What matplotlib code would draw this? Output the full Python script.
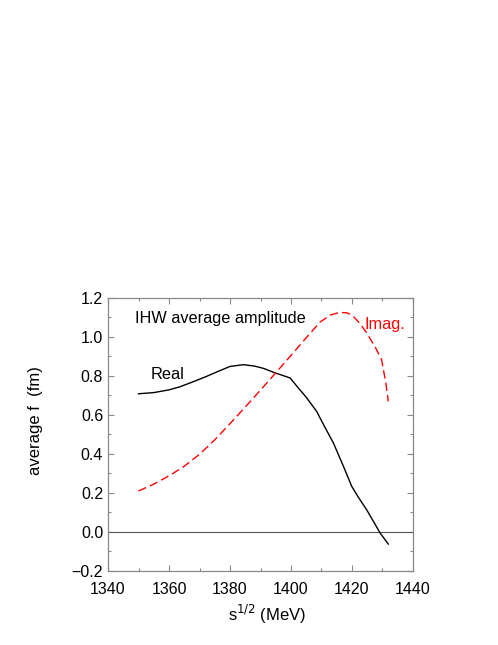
import matplotlib
matplotlib.use("Agg")
import matplotlib.pyplot as plt
from matplotlib.ticker import MultipleLocator

plt.rcParams['font.family'] = ['Liberation Sans', 'DejaVu Sans']

# real part of the averaged amplitude
real_x = [1350, 1355, 1360, 1363.6, 1368, 1372, 1376, 1380, 1384.4, 1388, 1391,
          1394.8, 1399.7, 1402.4, 1405, 1408.4, 1411, 1413.9, 1417.2, 1419.9,
          1422, 1424.8, 1427, 1429.2, 1431.9]
real_y = [0.708, 0.714, 0.728, 0.744, 0.77, 0.795, 0.822, 0.848, 0.857, 0.85, 0.838,
          0.815, 0.789, 0.738, 0.69, 0.618, 0.54, 0.456, 0.336, 0.234,
          0.18, 0.114, 0.055, -0.005, -0.062]

# imaginary part
imag_x = [1350, 1355, 1360.3, 1365, 1370, 1375, 1380, 1385, 1390, 1395, 1400,
          1405, 1409.5, 1413, 1416, 1418.5, 1420.4, 1422.5, 1424.8, 1427.5,
          1429.7, 1431.1, 1431.9]
imag_y = [0.21, 0.245, 0.29, 0.337, 0.398, 0.472, 0.555, 0.64, 0.727, 0.815, 0.905,
          0.995, 1.075, 1.112, 1.125, 1.122, 1.105, 1.07, 1.02, 0.95,
          0.883, 0.763, 0.669]

fig = plt.figure(figsize=(4.98, 6.45), dpi=100)
ax = fig.add_axes([0.2169, 0.1147, 0.6124, 0.4237])

ax.axhline(0.0, color="#555555", lw=0.8)
ax.plot(real_x, real_y, color="black", lw=1.0)
ax.plot(imag_x, imag_y, color="red", lw=1.0, dashes=(6, 3))

ax.set_xlim(1340, 1440)
ax.set_ylim(-0.2, 1.2)
ax.xaxis.set_major_locator(MultipleLocator(20))
ax.xaxis.set_minor_locator(MultipleLocator(10))
ax.yaxis.set_major_locator(MultipleLocator(0.2))
ax.yaxis.set_minor_locator(MultipleLocator(0.1))
ax.yaxis.set_major_formatter(plt.FuncFormatter(
    lambda v, p: ("%.1f" % v).replace("-", "\u2212")))

ax.tick_params(which="both", direction="in", top=True, right=True,
               color="#888888", labelsize=11.5)
ax.tick_params(which="major", length=4, width=0.8)
ax.tick_params(which="minor", length=2, width=0.8)
ax.tick_params(axis="x", pad=8)
for s in ax.spines.values():
    s.set_color("#888888")
    s.set_linewidth(0.9)

ax.set_xlabel("s$^{1/2}$ (MeV)", fontsize=12)
ax.set_ylabel("average f  (fm)", fontsize=12)
ax.xaxis.set_label_coords(0.52, -0.115)
ax.yaxis.set_label_coords(-0.213, 0.552)

ax.text(1349, 1.07, "IHW average amplitude", fontsize=11.7)
ax.text(1354, 0.785, "Real", fontsize=11.7)
ax.text(1424, 1.04, "Imag.", fontsize=11.7, color="red")

fig.savefig("out.png", dpi=100)
